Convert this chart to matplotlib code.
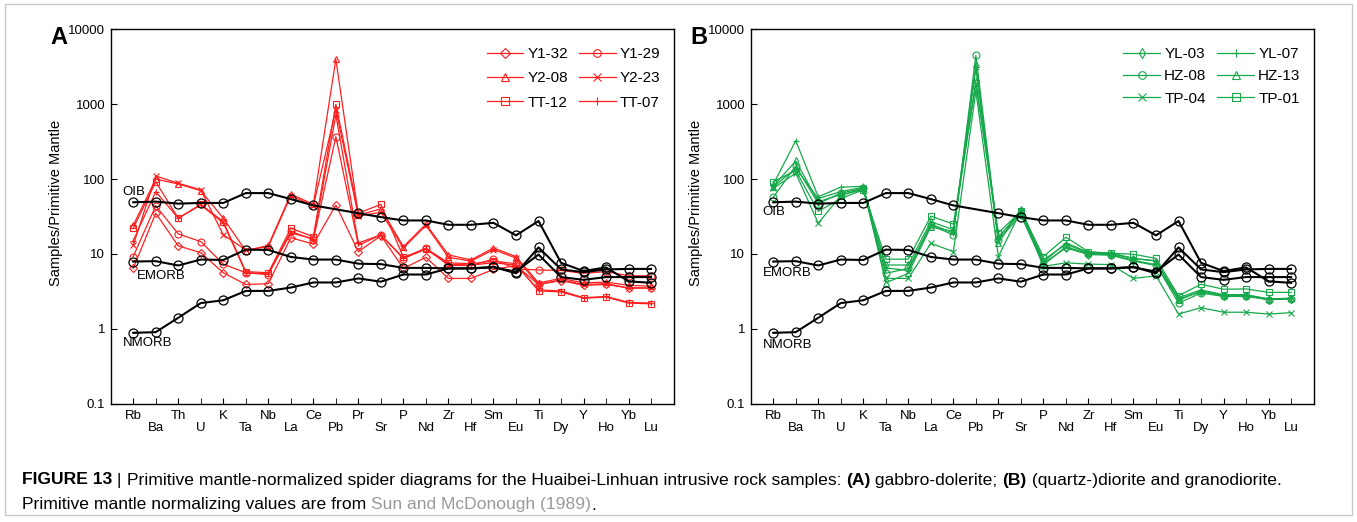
import numpy as np
import matplotlib
matplotlib.use('Agg')
import matplotlib.pyplot as plt
from matplotlib.patches import Rectangle

plt.rcParams['font.family'] = ['Liberation Sans', 'DejaVu Sans']

elements = ['Rb', 'Ba', 'Th', 'U', 'K', 'Ta', 'Nb', 'La', 'Ce', 'Pb', 'Pr', 'Sr',
            'P', 'Nd', 'Zr', 'Hf', 'Sm', 'Eu', 'Ti', 'Dy', 'Y', 'Ho', 'Yb', 'Lu']

# reference curves (OIB drawn without Pb)
oib_elements = [e for e in elements if e != 'Pb']
oib = [49, 50, 47, 48, 48, 65, 65, 54, 44.5, 35, 31, 28, 28, 24.5, 24.5, 26, 17.7,
       27.5, 7.6, 5.9, 6.6, 4.3, 4.1]
emorb = [7.9, 8.0, 7.0, 8.4, 8.3, 11.4, 11.3, 9.1, 8.4, 8.4, 7.4, 7.3, 6.5, 6.5,
         6.4, 6.4, 6.6, 5.8, 9.8, 4.9, 4.5, 4.9, 4.9, 4.9]
nmorb = [0.88, 0.9, 1.4, 2.2, 2.4, 3.2, 3.2, 3.55, 4.15, 4.15, 4.7, 4.25, 5.3, 5.3,
         6.4, 6.4, 6.7, 5.5, 12.2, 6.2, 5.7, 6.2, 6.3, 6.3]

# panel A: gabbro-dolerite
y1_32 = [6.4, 35, 12.8, 10.4, 5.6, 3.9, 4.0, 16.5, 13.5, 45, 10.7, 17.5, 6.4, 9.0,
         4.7, 4.7, 6.2, 7.0, 3.9, 4.4, 3.8, 3.9, 3.5, 3.5]
y1_29 = [9.2, 44, 18.5, 14.6, 7.3, 5.6, 5.3, 20, 15.5, 370, 13, 18, 8.6, 12,
         7.0, 7.0, 8.5, 6.3, 6.1, 6.0, 5.5, 5.8, 5.1, 5.1]
y2_08 = [24, 100, 86, 70, 30, 11, 13, 63, 46, 4000, 33, 40, 12.5, 25,
         9.7, 8.3, 12, 9.2, 4.1, 4.7, 4.1, 4.2, 3.8, 3.7]
y2_23 = [13, 110, 88, 72, 18, 11.3, 12.5, 60, 44, 850, 32, 36, 12, 24,
         9.0, 8.0, 11.4, 8.8, 3.9, 4.5, 3.9, 4.0, 3.5, 3.5]
tt_12 = [22, 92, 30, 46, 27, 5.8, 5.6, 22, 17, 1000, 35, 46, 9.0, 11.8,
         7.6, 7.4, 8.0, 7.4, 3.2, 3.1, 2.55, 2.65, 2.2, 2.15]
tt_07 = [15, 68, 30, 45, 26, 5.6, 5.4, 19, 16, 720, 14, 18, 8.8, 11.5,
         7.3, 7.1, 7.6, 7.1, 3.3, 3.2, 2.6, 2.7, 2.25, 2.2]

# panel B: (quartz-)diorite and granodiorite
yl_03 = [80, 175, 50, 62, 72, 7.1, 7.1, 27, 21, 2000, 17, 35, 7.5, 12,
         9.8, 9.6, 8.0, 7.0, 2.5, 3.1, 2.75, 2.75, 2.45, 2.5]
yl_07 = [85, 326, 58, 78, 80, 6.5, 6.0, 25, 19, 3000, 16, 39, 7.8, 14,
         10.5, 10.3, 8.7, 8.0, 2.6, 3.3, 2.85, 2.85, 2.5, 2.55]
hz_08 = [57, 150, 47, 65, 75, 5.5, 6.4, 24, 18, 4500, 15.3, 33, 7.1, 12.5,
         10, 9.8, 8.2, 7.2, 2.2, 3.0, 2.7, 2.7, 2.45, 2.5]
hz_13 = [78, 140, 55, 68, 78, 4.1, 5.5, 23, 20, 3500, 13.9, 40, 8.3, 13.5,
         10.2, 10, 8.7, 8.1, 2.4, 3.2, 2.8, 2.8, 2.5, 2.55]
tp_04 = [75, 120, 25.7, 60, 75, 4.7, 4.7, 13.9, 10.7, 1500, 9.2, 38, 6.8, 7.6,
         7.3, 7.2, 4.7, 5.1, 1.57, 1.91, 1.66, 1.66, 1.57, 1.64]
tp_01 = [92, 130, 37, 55, 72, 8.5, 8.5, 32, 25, 1900, 19.2, 37, 9.2, 16.7,
         10.7, 10.2, 9.9, 8.7, 2.76, 3.93, 3.37, 3.4, 3.06, 3.06]

samples_a = [('Y1-32', y1_32, 'D'), ('Y2-08', y2_08, '^'), ('TT-12', tt_12, 's'),
             ('Y1-29', y1_29, 'o'), ('Y2-23', y2_23, 'x'), ('TT-07', tt_07, '+')]
samples_b = [('YL-03', yl_03, 'd'), ('HZ-08', hz_08, 'o'), ('TP-04', tp_04, 'x'),
             ('YL-07', yl_07, '+'), ('HZ-13', hz_13, '^'), ('TP-01', tp_01, 's')]

RED = '#ff1f1f'
GREEN = '#16a84a'

fig = plt.figure(figsize=(13.57, 5.22), dpi=100)
W, H = 1357.0, 522.0


def panel(left, samples, color, letter, ref_labels, leg_spacing):
    ax = fig.add_axes([left / W, 1 - 403.5 / H, 563.6 / W, 374 / H])
    x = np.arange(len(elements))
    for name, vals, mk in samples:
        ms = 4.2 if mk in ('D', 'd') else 5
        ax.plot(x, vals, color=color, lw=0.9, marker=mk, ms=ms, mfc='none',
                mec=color, mew=0.8, label=name)
    xo = [elements.index(e) for e in oib_elements]
    ax.plot(xo, oib, color='black', lw=1.5, marker='o', ms=6.5, mfc='none', mew=0.9)
    ax.plot(x, emorb, color='black', lw=1.5, marker='o', ms=6.5, mfc='none', mew=0.9)
    ax.plot(x, nmorb, color='black', lw=1.5, marker='o', ms=6.5, mfc='none', mew=0.9)

    ax.set_yscale('log')
    ax.set_ylim(0.1, 10000)
    ax.set_xlim(-1, 24.03)
    ax.set_yticks([0.1, 1, 10, 100, 1000, 10000])
    ax.set_yticklabels(['0.1', '1', '10', '100', '1000', '10000'])
    ax.yaxis.set_minor_locator(matplotlib.ticker.NullLocator())
    ax.tick_params(axis='y', direction='in', length=4, labelsize=9.5, pad=4)

    ax.set_xticks(x[::2])
    ax.set_xticklabels(elements[::2])
    ax.set_xticks(x[1::2], minor=True)
    ax.set_xticklabels(elements[1::2], minor=True)
    ax.tick_params(axis='x', which='both', direction='in', length=4, labelsize=9.5)
    ax.tick_params(axis='x', which='major', pad=5)
    ax.tick_params(axis='x', which='minor', pad=13)

    ax.set_ylabel('Samples/Primitive Mantle', fontsize=10.5)
    ax.yaxis.set_label_coords((63 - left) / 563.6 + (left - left), 0.536)
    for sp in ax.spines.values():
        sp.set_linewidth(1.0)

    for txt, xx, yy in ref_labels:
        ax.text(xx, yy, txt, fontsize=9.5, ha='left', va='center')

    ax.legend(ncol=2, frameon=False, loc='upper right', bbox_to_anchor=(1.0, 0.99),
              fontsize=11, handlelength=2.4, handletextpad=0.28,
              columnspacing=0.7, labelspacing=leg_spacing, markerscale=1.1)
    fig.text((left - 60) / W, 1 - 37 / H, letter, fontsize=17, weight='bold',
             ha='left', va='center')
    return ax


ax_a = panel(110.7, samples_a, RED, 'A',
             [('OIB', -0.46, 67), ('EMORB', 0.15, 5.1), ('NMORB', -0.47, 0.64)], 0.68)
ax_a.yaxis.set_label_coords(-(110.7 - 63) / 563.6, 0.536)
ax_b = panel(750.7, samples_b, GREEN, 'B',
             [('OIB', -0.47, 36), ('EMORB', -0.47, 5.5), ('NMORB', -0.47, 0.605)], 0.55)
ax_b.yaxis.set_label_coords(-(750.7 - 703) / 563.6, 0.536)

# caption
renderer = fig.canvas.get_renderer()


def caption_line(x, y, parts, size=12.6):
    for txt, w, c in parts:
        t = fig.text(x, y, txt, fontsize=size, weight=w, color=c, ha='left', va='center')
        x += t.get_window_extent(renderer=renderer).width / W


caption_line(22 / W, 1 - 480 / H, [
    ('FIGURE 13', 'bold', 'black'),
    (' | ', 'normal', 'black'),
    ('Primitive mantle-normalized spider diagrams for the Huaibei-Linhuan intrusive rock samples: ',
     'normal', 'black'),
    ('(A)', 'bold', 'black'),
    (' gabbro-dolerite; ', 'normal', 'black'),
    ('(B)', 'bold', 'black'),
    (' (quartz-)diorite and granodiorite.', 'normal', 'black')])
caption_line(22 / W, 1 - 505 / H, [
    ('Primitive mantle normalizing values are from ', 'normal', 'black'),
    ('Sun and McDonough (1989)', 'normal', '#9a9a9a'),
    ('.', 'normal', 'black')])

fig.add_artist(Rectangle((5 / W, 1 - 515 / H), 1347 / W, 511 / H,
                         transform=fig.transFigure, fill=False, ec='#c8c8c8', lw=1))

fig.savefig('out.png', dpi=100)
